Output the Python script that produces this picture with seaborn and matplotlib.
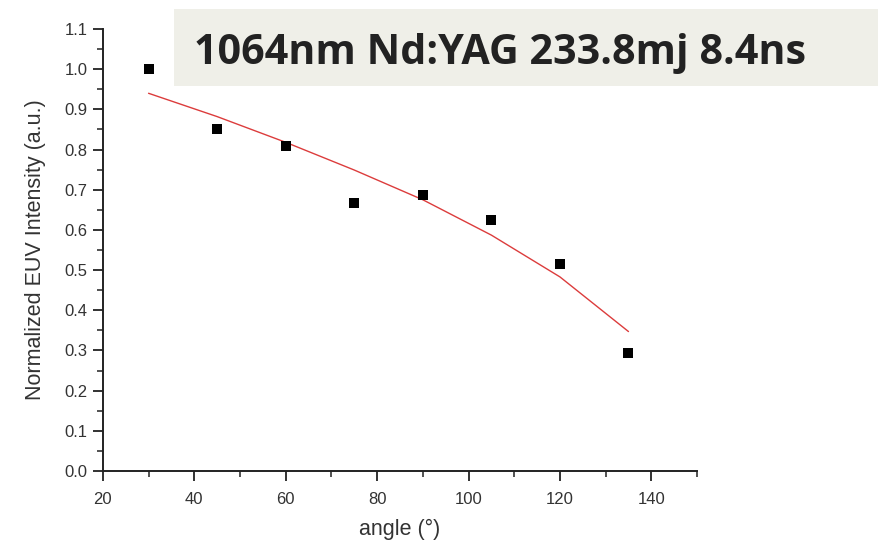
import matplotlib
matplotlib.use("Agg")
import matplotlib.pyplot as plt
import seaborn as sns
import pandas as pd
from matplotlib.ticker import MultipleLocator

angles = [30, 45, 60, 75, 90, 105, 120, 135]
intensity = [1.0, 0.851, 0.810, 0.668, 0.686, 0.625, 0.515, 0.294]
fit_angles = [30, 45, 60, 75, 90, 105, 120, 135]
fit_values = [0.940, 0.882, 0.818, 0.749, 0.675, 0.587, 0.483, 0.347]

title_text = "1064nm Nd:YAG 233.8mj 8.4ns"
xlabel = "angle (°)"
ylabel = "Normalized EUV Intensity (a.u.)"

sns.set_style("ticks")
plt.rcParams['font.family'] = ['Liberation Sans', 'DejaVu Sans']

df = pd.DataFrame({"angle": angles, "intensity": intensity})
fit = pd.DataFrame({"angle": fit_angles, "value": fit_values})

fig = plt.figure(figsize=(8.79, 5.47), dpi=100)
ax = fig.add_axes([0.117, 0.139, 0.676, 0.808])

sns.lineplot(data=fit, x="angle", y="value", ax=ax, color="#dc3c3c", linewidth=1.0)
sns.scatterplot(data=df, x="angle", y="intensity", ax=ax, marker="s", s=45,
                color="black", edgecolor="black", linewidth=0, zorder=3)

ax.set_xlim(20, 150)
ax.set_ylim(0, 1.1)
ax.xaxis.set_minor_locator(MultipleLocator(10))
ax.yaxis.set_major_locator(MultipleLocator(0.1))
ax.yaxis.set_minor_locator(MultipleLocator(0.05))
ax.set_xticks([20, 40, 60, 80, 100, 120, 140])
ax.set_xticklabels(["20", "40", "60", "80", "100", "120", "140"])
ax.tick_params(axis="both", which="major", direction="out", length=7, width=1.3,
               labelsize=12, colors="#222222", labelcolor="#333333")
ax.tick_params(axis="x", which="major", pad=8)
ax.tick_params(axis="y", which="major", pad=4)
ax.tick_params(axis="both", which="minor", direction="out", length=4, width=1.1,
               colors="#222222")
for s in ["top", "right"]:
    ax.spines[s].set_visible(False)
for s in ["left", "bottom"]:
    ax.spines[s].set_linewidth(1.4)
    ax.spines[s].set_color("#222222")

ax.set_xlabel(xlabel, fontsize=15.5, color="#333333")
ax.set_ylabel(ylabel, fontsize=15.5, color="#333333")
ax.xaxis.set_label_coords(0.5, -0.108)
ax.yaxis.set_label_coords(-0.096, 0.5)

fig.patches.append(plt.Rectangle((174 / 879, 1 - 86 / 547), 1 - 174 / 879, 77 / 547,
                                 transform=fig.transFigure, facecolor="#efefe8",
                                 edgecolor="none", zorder=5))
t = fig.text(194 / 879, 1 - 64 / 547, title_text, fontsize=28, fontweight="bold",
             family=["Open Sans", "DejaVu Sans"], color="#222222", va="baseline",
             ha="left", zorder=6)
fig.canvas.draw()
w = t.get_window_extent().width
t.set_fontsize(28 * 611 / w)

fig.savefig("out.png", dpi=100, facecolor="white")
